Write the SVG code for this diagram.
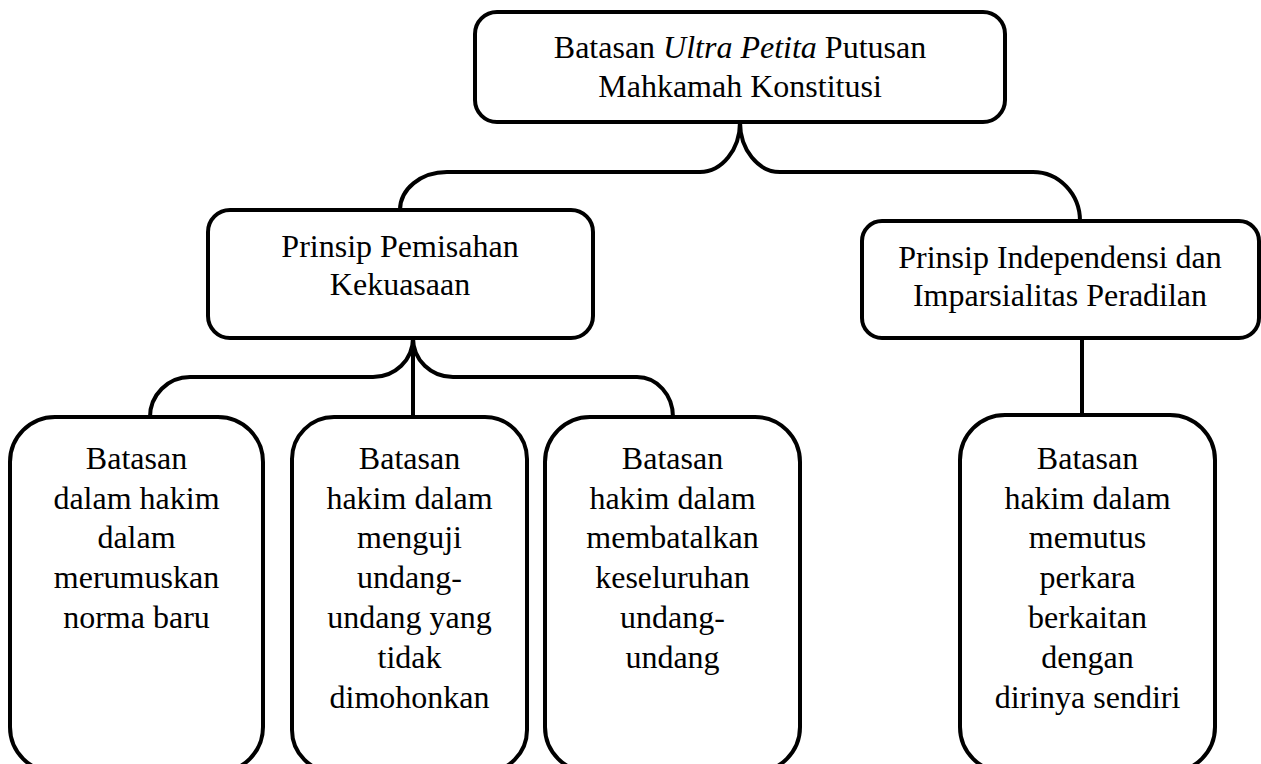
<svg xmlns="http://www.w3.org/2000/svg" width="1261" height="764" viewBox="0 0 1261 764">
<style>
.box{fill:#fff;stroke:#000;stroke-width:4}
.con{fill:none;stroke:#000;stroke-width:4}
text{font-family:"Liberation Serif","Times New Roman",serif;font-size:32px;fill:#000;text-anchor:middle}
</style>
<rect width="1261" height="764" fill="#fff"/>
<g id="connectors">
<path class="con" d="M740,122 C740,149.6 722,172 700,172 L447,172 C421,172 400,189 400,210"/>
<path class="con" d="M740,122 C740,149.6 758,172 780,172 L1033,172 C1059,172 1080,194 1080,221"/>
<path class="con" d="M413,338 C413,360 395,377 373,377 L190,377 C168,377 150,395 150,417"/>
<path class="con" d="M413,338 C413,360 431,377 453,377 L637,377 C657,377 673,395 673,417"/>
<path class="con" d="M413,338 L413,417"/>
<path class="con" d="M1082,338 L1082,415"/>
</g>
<g id="node-root">
<rect class="box" x="475" y="12" width="530" height="110" rx="22"/>
<text x="740" y="58">Batasan <tspan font-style="italic">Ultra Petita</tspan> Putusan</text>
<text x="740" y="97">Mahkamah Konstitusi</text>
</g>
<g id="node-pemisahan">
<rect class="box" x="208" y="210" width="385" height="128" rx="22"/>
<text x="400" y="257">Prinsip Pemisahan</text>
<text x="400" y="295">Kekuasaan</text>
</g>
<g id="node-independensi">
<rect class="box" x="862" y="221" width="397" height="117" rx="20"/>
<text x="1060" y="268">Prinsip Independensi dan</text>
<text x="1060" y="306">Imparsialitas Peradilan</text>
</g>
<g id="node-b1">
<rect class="box" x="10" y="417" width="253" height="355" rx="45"/>
<text x="136.5" y="469">Batasan</text>
<text x="136.5" y="509">dalam hakim</text>
<text x="136.5" y="548">dalam</text>
<text x="136.5" y="588">merumuskan</text>
<text x="136.5" y="628">norma baru</text>
</g>
<g id="node-b2">
<rect class="box" x="292" y="417" width="235" height="355" rx="42"/>
<text x="409.5" y="469">Batasan</text>
<text x="409.5" y="509">hakim dalam</text>
<text x="409.5" y="548">menguji</text>
<text x="409.5" y="588">undang-</text>
<text x="409.5" y="628">undang yang</text>
<text x="409.5" y="668">tidak</text>
<text x="409.5" y="708">dimohonkan</text>
</g>
<g id="node-b3">
<rect class="box" x="545" y="417" width="255" height="355" rx="45"/>
<text x="672.5" y="469">Batasan</text>
<text x="672.5" y="509">hakim dalam</text>
<text x="672.5" y="548">membatalkan</text>
<text x="672.5" y="588">keseluruhan</text>
<text x="672.5" y="628">undang-</text>
<text x="672.5" y="668">undang</text>
</g>
<g id="node-b4">
<rect class="box" x="960" y="415" width="255" height="357" rx="45"/>
<text x="1087.5" y="469">Batasan</text>
<text x="1087.5" y="509">hakim dalam</text>
<text x="1087.5" y="548">memutus</text>
<text x="1087.5" y="588">perkara</text>
<text x="1087.5" y="628">berkaitan</text>
<text x="1087.5" y="668">dengan</text>
<text x="1087.5" y="708">dirinya sendiri</text>
</g>
</svg>
